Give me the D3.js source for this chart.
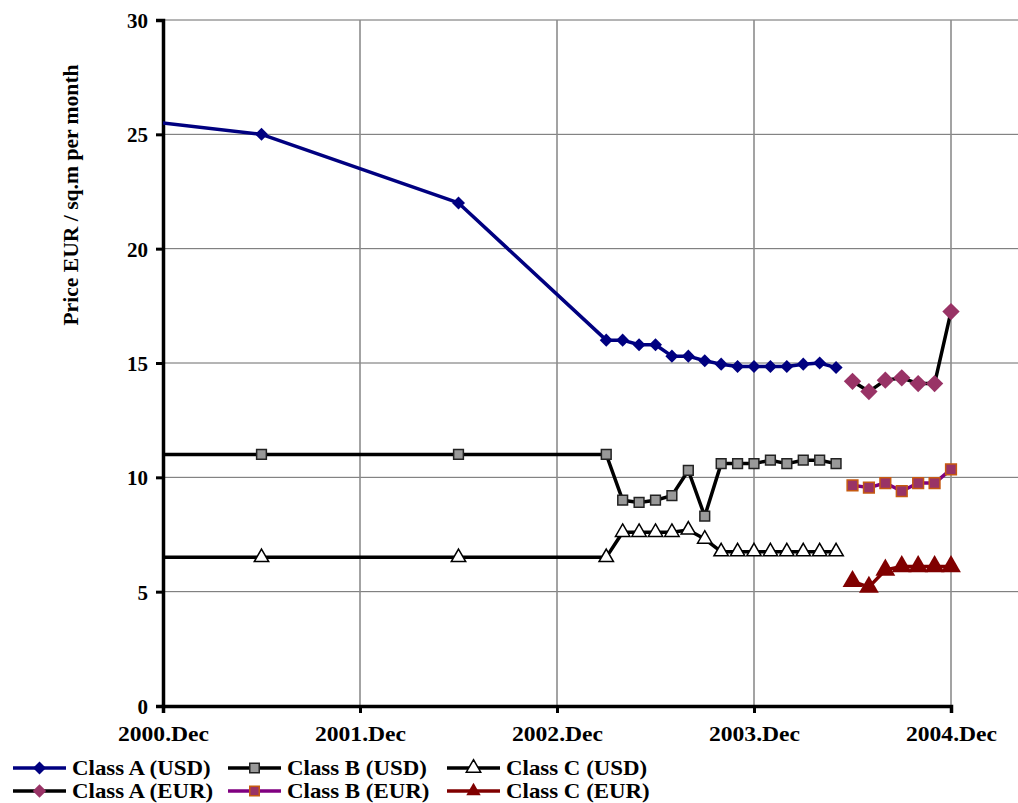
<!DOCTYPE html>
<html>
<head>
  <meta charset="utf-8">
  <title>Office rent prices</title>
  <script src="https://cdn.jsdelivr.net/npm/d3@7"></script>
  <style>
    body { margin: 0; background: #fff; }
    text { font-family: "Liberation Serif", "Times New Roman", serif; font-weight: bold; }
  </style>
</head>
<body>
<script>
// months counted from 2000.Dec (0 = 2000.Dec, 12 = 2001.Dec ...)
var usdMonths = [-6, 6, 18, 27, 28, 29, 30, 31, 32, 33, 34, 35, 36, 37, 38, 39, 40, 41];
var eurMonths = [42, 43, 44, 45, 46, 47, 48];

var classAUsd = [26, 25, 22, 16.0, 16.0, 15.8, 15.8, 15.3, 15.3, 15.1, 14.95, 14.85, 14.85, 14.85, 14.85, 14.95, 15.0, 14.8];
var classBUsd = [11, 11, 11, 11.0, 9.0, 8.9, 9.0, 9.2, 10.3, 8.3, 10.6, 10.6, 10.6, 10.75, 10.6, 10.75, 10.75, 10.6];
var classCUsd = [6.5, 6.5, 6.5, 6.5, 7.6, 7.6, 7.6, 7.6, 7.7, 7.3, 6.75, 6.75, 6.75, 6.75, 6.75, 6.75, 6.75, 6.75];

var classAEur = [14.2, 13.75, 14.25, 14.35, 14.1, 14.1, 17.25];
var classBEur = [9.65, 9.55, 9.75, 9.4, 9.75, 9.75, 10.35];
var classCEur = [5.45, 5.2, 5.95, 6.1, 6.1, 6.1, 6.1];

var xTickMonths = [0, 12, 24, 36, 48];
var xTickLabels = ["2000.Dec", "2001.Dec", "2002.Dec", "2003.Dec", "2004.Dec"];
var yTicks = [0, 5, 10, 15, 20, 25, 30];

var width = 1018, height = 803;
var margin = { top: 20, right: 0, bottom: 97, left: 163 };

var svg = d3.select("body").append("svg").attr("width", width).attr("height", height);

var x = d3.scaleLinear().domain([0, 48]).range([163, 951]);
var y = d3.scaleLinear().domain([0, 30]).range([height - margin.bottom, margin.top]);

// widen text a bit, the original font is drawn broader than Liberation Serif
function stretch(sel, f) {
  sel.each(function() {
    var w = this.getComputedTextLength();
    d3.select(this).attr("textLength", w * f).attr("lengthAdjust", "spacingAndGlyphs");
  });
}

svg.append("defs").append("clipPath").attr("id", "plot")
  .append("rect").attr("x", margin.left).attr("y", 0).attr("width", width - margin.left).attr("height", height);

// grid
svg.append("g").selectAll("line").data(yTicks.slice(1)).join("line")
  .attr("x1", margin.left).attr("x2", width)
  .attr("y1", d => y(d)).attr("y2", d => y(d))
  .attr("stroke", "#6a6a6a").attr("stroke-width", 1);
svg.append("g").selectAll("line").data(xTickMonths.slice(1)).join("line")
  .attr("x1", d => x(d)).attr("x2", d => x(d))
  .attr("y1", y(30)).attr("y2", y(0))
  .attr("stroke", "#8c8c8c").attr("stroke-width", 1.6);

// axes
var yAxis = svg.append("g").attr("transform", "translate(" + margin.left + ",0)")
  .call(d3.axisLeft(y).tickValues(yTicks).tickSize(7).tickPadding(8).tickFormat(d3.format("d")));
var xAxis = svg.append("g").attr("transform", "translate(0," + y(0) + ")")
  .call(d3.axisBottom(x).tickValues(xTickMonths).tickSize(7).tickPadding(14)
    .tickFormat((d, i) => xTickLabels[i]));
[yAxis, xAxis].forEach(function(g) {
  g.select(".domain").attr("stroke", "#000").attr("stroke-width", 3.5);
  g.selectAll(".tick line").attr("stroke", "#000").attr("stroke-width", 3);
  g.selectAll(".tick text").attr("fill", "#000").attr("font-family", null);
});
yAxis.selectAll(".tick text").attr("font-size", "21px").attr("dy", "0.35em");
xAxis.selectAll(".tick text").attr("font-size", "20px").attr("dy", "0.71em");
stretch(xAxis.selectAll(".tick text"), 1.18);

svg.append("text")
  .attr("transform", "translate(78,195) rotate(-90)")
  .attr("text-anchor", "middle")
  .attr("font-size", "20px")
  .text("Price EUR / sq.m per month")
  .call(stretch, 1.08);

// series
var diamond = d3.symbolSquare;
var series = [
  { name: "Class A (USD)", xs: usdMonths, ys: classAUsd, line: "#000080", sym: diamond, rot: 45, size: 85, fill: "#000080", stroke: "none" },
  { name: "Class B (USD)", xs: usdMonths, ys: classBUsd, line: "#000000", sym: d3.symbolSquare, rot: 0, size: 95, fill: "#999999", stroke: "#222" },
  { name: "Class C (USD)", xs: usdMonths, ys: classCUsd, line: "#000000", sym: d3.symbolTriangle, rot: 0, size: 90, fill: "#ffffff", stroke: "#000" },
  { name: "Class A (EUR)", xs: eurMonths, ys: classAEur, line: "#000000", sym: diamond, rot: 45, size: 150, fill: "#993366", stroke: "none" },
  { name: "Class B (EUR)", xs: eurMonths, ys: classBEur, line: "#800080", sym: d3.symbolSquare, rot: 0, size: 115, fill: "#993366", stroke: "#c65a11" },
  { name: "Class C (EUR)", xs: eurMonths, ys: classCEur, line: "#800000", sym: d3.symbolTriangle, rot: 0, size: 170, fill: "#800000", stroke: "none" }
];

var plot = svg.append("g").attr("clip-path", "url(#plot)");
var lineGen = d3.line().x(d => x(d[0])).y(d => y(d[1]));

series.forEach(function(s) {
  var pts = s.xs.map((m, i) => [m, s.ys[i]]);
  plot.append("path").datum(pts)
    .attr("fill", "none").attr("stroke", s.line).attr("stroke-width", 3.5)
    .attr("stroke-linejoin", "round")
    .attr("d", lineGen);
  plot.selectAll(null).data(pts).join("path")
    .attr("transform", d => "translate(" + x(d[0]) + "," + y(d[1]) + ") rotate(" + s.rot + ")")
    .attr("d", d3.symbol().type(s.sym).size(s.size))
    .attr("fill", s.fill).attr("stroke", s.stroke).attr("stroke-width", 1.5);
});

// legend
var legendCols = [13, 228, 447];
var legendRows = [768, 791];
var legend = svg.append("g");
series.forEach(function(s, i) {
  var lx = legendCols[i % 3], ly = legendRows[Math.floor(i / 3)];
  var g = legend.append("g").attr("transform", "translate(" + lx + "," + ly + ")");
  g.append("line").attr("x1", 0).attr("x2", 53).attr("stroke", s.line).attr("stroke-width", 3.5);
  g.append("path").attr("transform", "translate(26.5,0) rotate(" + s.rot + ")")
    .attr("d", d3.symbol().type(s.sym).size(Math.min(s.size, 90)))
    .attr("fill", s.fill).attr("stroke", s.stroke).attr("stroke-width", 1.5);
  g.append("text").attr("x", 59).attr("dy", "0.33em").attr("font-size", "21px").text(s.name)
    .call(stretch, 1.09);
});
</script>
</body>
</html>
